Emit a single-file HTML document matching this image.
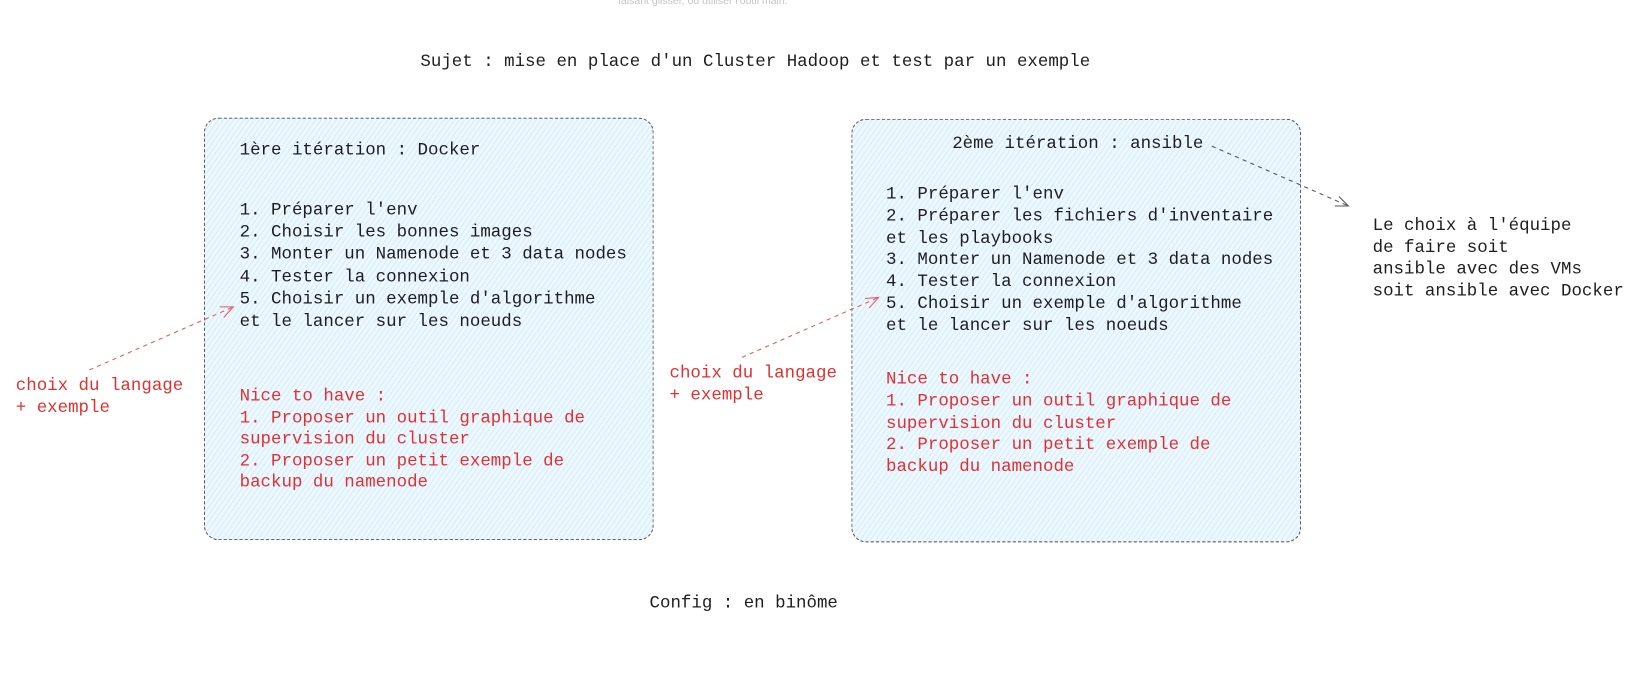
<!DOCTYPE html>
<html><head><meta charset="utf-8"><style>
html,body{margin:0;padding:0;background:#fff;width:1648px;height:670px;overflow:hidden}
#c{position:absolute;left:0;top:0;width:1570px;height:640px;transform:scale(1.051);transform-origin:0 0}
.t{position:absolute;font-family:"Liberation Mono","DejaVu Sans Mono",monospace;font-size:16.6px;line-height:21px;color:#1e1e1e;white-space:pre}
.r{color:#e03131}
.box{position:absolute;border:1.2px dashed #555;border-radius:14px;
background:#eef8ff repeating-linear-gradient(-55deg,#eef8ff 0,#eef8ff 3px,#d3ecfd 3px,#d3ecfd 4px)}
svg{position:absolute;left:0;top:0}
</style></head><body><div id="c">
<div class="t" style="left:588px;top:-9px;font-family:'Liberation Sans',sans-serif;font-size:10px;color:#c4c4c4">faisant glisser, ou utiliser l'outil main.</div>
<div class="t" style="left:400px;top:48px">Sujet : mise en place d'un Cluster Hadoop et test par un exemple</div>
<div class="box" style="left:194px;top:112px;width:426px;height:400px"></div>
<div class="box" style="left:810px;top:113px;width:426px;height:401px"></div>
<div class="t" style="left:228px;top:132px">1ère itération : Docker</div>
<div class="t" style="left:228px;top:189px;line-height:21.2px">1. Préparer l'env
2. Choisir les bonnes images
3. Monter un Namenode et 3 data nodes
4. Tester la connexion
5. Choisir un exemple d'algorithme
et le lancer sur les noeuds</div>
<div class="t r" style="left:228px;top:367px;line-height:20.5px">Nice to have :
1. Proposer un outil graphique de
supervision du cluster
2. Proposer un petit exemple de
backup du namenode</div>
<div class="t" style="left:906px;top:126px">2ème itération : ansible</div>
<div class="t" style="left:843px;top:175px;line-height:20.8px">1. Préparer l'env
2. Préparer les fichiers d'inventaire
et les playbooks
3. Monter un Namenode et 3 data nodes
4. Tester la connexion
5. Choisir un exemple d'algorithme
et le lancer sur les noeuds</div>
<div class="t r" style="left:843px;top:351px;line-height:20.8px">Nice to have :
1. Proposer un outil graphique de
supervision du cluster
2. Proposer un petit exemple de
backup du namenode</div>
<div class="t r" style="left:15px;top:357px;line-height:20.5px">choix du langage
+ exemple</div>
<div class="t r" style="left:637px;top:345px;line-height:20.5px">choix du langage
+ exemple</div>
<div class="t" style="left:1306px;top:205px;line-height:20.5px">Le choix à l'équipe
de faire soit
ansible avec des VMs
soit ansible avec Docker</div>
<div class="t" style="left:618px;top:563px">Config : en binôme</div>
<svg width="1570" height="640">
<g fill="none" stroke-width="1" stroke-dasharray="4 4">
<path d="M85 352 L222 292" stroke="#e8595a"/>
<path d="M706 340 L836 283" stroke="#e8595a"/>
<path d="M1153 139 L1283 196" stroke="#555"/>
</g>
<g fill="none" stroke-width="1">
<path d="M209 292 L222 292 L213 302" stroke="#e8595a"/>
<path d="M823 284 L836 283 L827 293" stroke="#e8595a"/>
<path d="M1274 187 L1283 196 L1270 196" stroke="#555"/>
</g>
</svg>
</div></body></html>
